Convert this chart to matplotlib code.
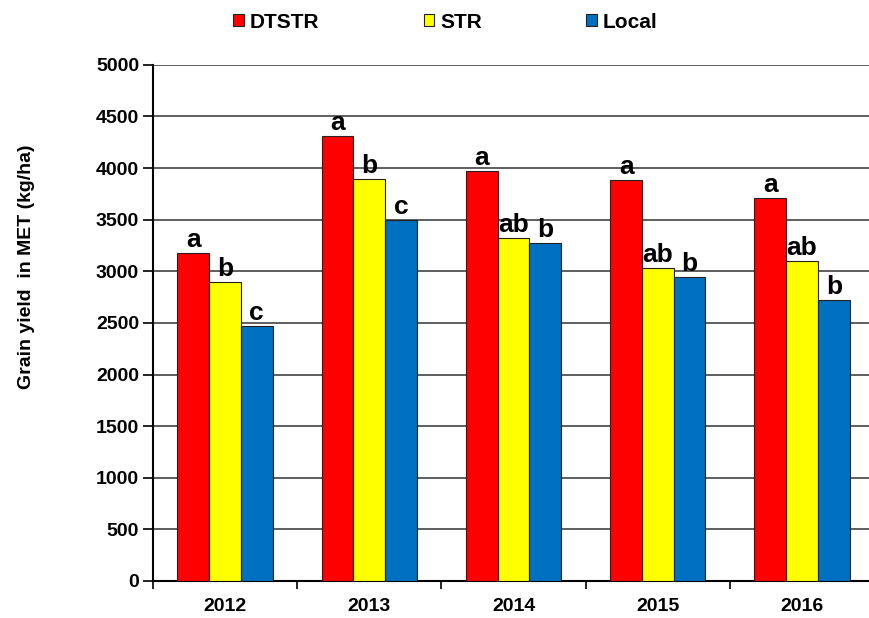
import numpy as np
import matplotlib
matplotlib.use("Agg")
from matplotlib import pyplot as plt

plt.rcParams['font.family'] = ['Liberation Sans', 'DejaVu Sans']

years = ["2012", "2013", "2014", "2015", "2016"]
dtstr = [3180, 4310, 3970, 3880, 3710]
strr = [2900, 3890, 3320, 3030, 3100]
local = [2470, 3500, 3270, 2940, 2720]
dtstr_let = ["a", "a", "a", "a", "a"]
str_let = ["b", "b", "ab", "ab", "ab"]
local_let = ["c", "c", "b", "b", "b"]

series = [("DTSTR", dtstr, dtstr_let, "#FF0000"),
          ("STR", strr, str_let, "#FFFF00"),
          ("Local", local, local_let, "#0070C0")]

fig = plt.figure(figsize=(8.69, 6.18), dpi=100)
ax = fig.add_axes([0.176, 0.06, 0.83, 0.835])

x = np.arange(len(years))
w = 0.22
for i, (name, vals, lets, col) in enumerate(series):
    pos = x + (i - 1) * w
    ax.bar(pos, vals, w, color=col, edgecolor="#222222", linewidth=0.8,
           label=name, zorder=3)
    for p, v, t in zip(pos, vals, lets):
        ax.text(p, v + 10, t, ha="center", va="bottom", fontsize=19,
                fontweight="bold", zorder=4)

ax.set_ylim(0, 5000)
ax.set_xlim(-0.5, 4.5)
ax.set_yticks(np.arange(0, 5001, 500))
ax.yaxis.grid(True, color="#333333", linewidth=1.1, zorder=0)
ax.set_axisbelow(True)
ax.set_xticks(x)
ax.set_xticklabels(years, fontsize=14, fontweight="bold")
ax.set_xticks(np.arange(-0.5, 5.0, 1), minor=True)
ax.tick_params(axis="x", which="major", length=0, pad=12)
ax.tick_params(axis="x", which="minor", length=6, width=1.2, direction="out")
ax.tick_params(axis="y", length=7, width=1.2, direction="out", labelsize=14, pad=3)
for lab in ax.get_yticklabels():
    lab.set_fontweight("bold")
ax.spines["top"].set_visible(False)
ax.spines["right"].set_visible(False)
ax.spines["left"].set_linewidth(1.5)
ax.spines["bottom"].set_linewidth(1.5)
ax.set_ylabel("Grain yield  in MET (kg/ha)", fontsize=14, fontweight="bold")
ax.yaxis.set_label_coords(-0.164, 0.609)

fig.legend(loc="upper left", bbox_to_anchor=(0.247, 1.01), ncol=3, frameon=False,
           prop={"size": 15, "weight": "bold"}, handlelength=0.5, handleheight=0.5,
           handletextpad=0.3, columnspacing=5.0)

plt.savefig("out.png", dpi=100)
